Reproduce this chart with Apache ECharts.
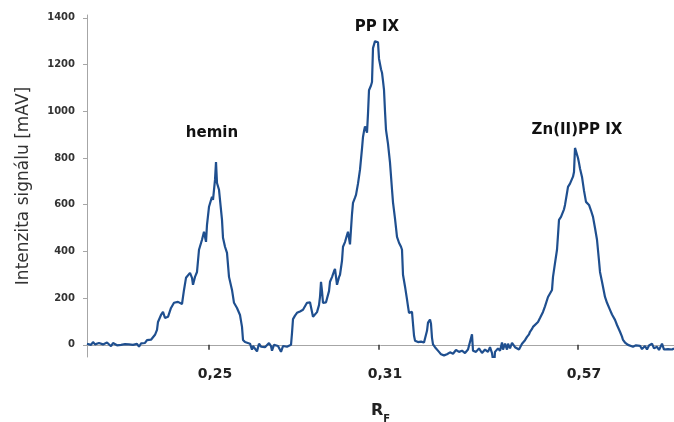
<!DOCTYPE html>
<html>
<head>
<meta charset="utf-8">
<script src="https://cdn.jsdelivr.net/npm/echarts@6/dist/echarts.min.js"></script>
<style>
  html, body { margin: 0; padding: 0; background: #fff; }
  #chart { width: 674px; height: 422px; }
</style>
</head>
<body>
<div id="chart"></div>
<script>
// scan position along the plate (arbitrary units) and detector signal [mAV]
const pos = [
  87, 89, 91, 93, 95, 97, 99, 101, 103, 105, 107, 109, 111, 113, 115, 117, 119, 121, 123, 125,
  127, 129, 131, 133, 135, 137, 139, 141, 143, 145, 147, 149, 151,
  152, 155, 157, 158, 161, 163, 165, 168, 171, 174, 178, 182, 184, 186, 190, 192, 193, 195,
  197, 199, 202, 204, 206, 207, 209, 212, 213, 215, 216, 217, 219, 220, 222, 223, 225, 227,
  229, 232, 234, 237, 238, 240, 242, 243, 245, 247, 250, 252, 253,
  255, 257, 259, 261, 263, 265, 267, 269, 271, 272, 274, 276, 278, 280, 281, 283, 285, 287, 289, 291,
  292, 293, 295, 297, 300, 303, 305, 307, 310, 312, 313, 315, 317, 319, 320, 321, 322, 323,
  326, 328, 329, 330, 332, 334, 335, 337, 339, 340, 342, 343, 345, 347, 348, 350, 352, 353,
  355, 356, 358, 360, 362, 363, 364, 365, 367, 368, 369, 371, 372, 373, 375, 377, 378, 379,
  381, 382, 383, 384, 385, 386, 387, 388, 390, 392, 393, 395, 397, 399, 401, 402, 403, 405,
  407, 408, 409, 411, 412, 413, 414, 415, 418, 421, 424, 426, 427, 428, 430, 431, 432, 433,
  435, 437, 439, 441, 444, 447, 450, 453, 456, 459, 462, 465, 468, 470, 472, 473, 476, 479,
  482, 485, 488, 490, 492, 494, 495, 498, 500, 502, 503, 505, 507, 508, 510, 512, 513, 515,
  517, 519, 520, 522,
  523, 525, 527, 529, 530, 532, 533, 535, 538, 540, 543, 545, 548, 550, 552, 553, 555, 557,
  558, 559, 561, 562, 564, 565, 567, 568, 570, 572, 573, 574, 575, 576, 577, 578, 579, 580,
  582, 584, 586, 588, 589, 591, 593, 595, 597, 599, 600, 602, 605, 607, 610, 612, 615, 617,
  620, 622, 623, 625, 628, 630, 633, 636, 638, 640, 642, 645, 647, 649, 652, 654, 657, 659,
  662, 664, 666, 668, 670, 672, 674
];
const signal = [
  5, 10, 0, 12, 2, -5, 8, 14, 2, -3, 10, 4, -6, 8, 3, -2, 5, 0, -4, 3,
  -2, 2, -5, 0, -3, 4, -8, 6, 10, 8, 20, 15, 22,
  30, 43, 64, 98, 128, 141, 115, 120, 158, 180, 184, 175, 235, 287, 308, 287, 257, 291,
  312, 407, 450, 484, 441, 514, 591, 634, 621, 706, 783, 693, 664, 621, 535, 458, 420, 394,
  291, 235, 180, 158, 163, 128, 77, 21, 12, 9, 5, -21, -5,
  -5, -28, 5, -8, -3, -10, -5, 8, -5, -25, 0, -8, -5, -3, -30, -5, 0, -8, -3, 0,
  50, 110, 125, 137, 143, 150, 165, 180, 182, 180, 120, 125, 140, 170, 205, 270, 230, 180,
  182, 185, 230, 270, 290, 315, 325, 257, 290, 300, 360, 420, 440, 470, 484, 430, 560, 608,
  630, 642, 690, 750, 840, 890, 915, 935, 908, 990, 1090, 1110, 1125, 1270, 1300, 1306, 1295, 1225,
  1180, 1165, 1130, 1092, 1000, 920, 890, 860, 780, 665, 610, 540, 462, 437, 420, 407, 300, 250,
  195, 165, 137, 145, 141, 90, 40, 18, 12, 14, 10, 18, 60, 95, 108, 90, 30, 2,
  -10, -18, -30, -40, -45, -40, -32, -38, -22, -30, -25, -35, -20, -28, 45, -25, -30, -15,
  -35, -20, -30, -10, -35, -95, -30, -15, -25, 10, -20, 5, -20, 5, -15, 8, 0, -10,
  -5, -20, -15, 5,
  8, 20, 34, 45, 56, 68, 77, 85, 98, 115, 141, 165, 205, 220, 235, 291, 350, 407,
  470, 535, 548, 556, 580, 599, 650, 676, 690, 698, 720, 740, 843, 835, 838, 800, 779, 755,
  719, 660, 612, 605, 599, 575, 548, 500, 450, 360, 312, 270, 205, 180, 150, 130, 107, 85,
  56, 35, 21, 10, 0, -5, -8, -2, -10, -4, -18, -5, -20, -3, 5, -15, -8, -22,
  5, -20, -12, -18, -10, -20, -15
];

// R_F tick labels at the spot centres
const rfTicks = [209, 379, 578];
const rfLabels = ['0,25', '0,31', '0,57'];
const yTicks = [0, 200, 400, 600, 800, 1000, 1200, 1400];
const peakNames = ['hemin', 'PP IX', 'Zn(II)PP IX'];

const chart = echarts.init(document.getElementById('chart'));
const axisColor = '#a6a6a6';

chart.setOption({
  animation: false,
  grid: { left: 87, right: 0, top: 15, bottom: 65, outerBoundsMode: 'none' },
  xAxis: {
    type: 'value', min: 87, max: 674,
    name: '{r|R}{f|F}', nameLocation: 'middle', nameGap: 46,
    nameTextStyle: {
      rich: {
        r: { fontFamily: 'DejaVu Sans', fontWeight: 'bold', fontSize: 16, color: '#222' },
        f: { fontFamily: 'DejaVu Sans', fontWeight: 'bold', fontSize: 10, color: '#222', verticalAlign: 'bottom', padding: [0, 0, -5, 0] }
      }
    },
    axisLine: { onZero: true, lineStyle: { color: axisColor, width: 1 } },
    axisTick: { customValues: rfTicks, length: 5, lineStyle: { color: '#333', width: 1.5 } },
    axisLabel: {
      customValues: rfTicks,
      formatter: v => rfLabels[rfTicks.indexOf(v)] || '',
      margin: 10, padding: [0, 0, 0, 12],
      fontFamily: 'DejaVu Sans', fontWeight: 'bold', fontSize: 14, color: '#222'
    },
    splitLine: { show: false }
  },
  yAxis: {
    type: 'value', min: -52, max: 1412,
    name: 'Intenzita signálu [mAV]', nameLocation: 'middle', nameGap: 55,
    nameTextStyle: { fontFamily: 'DejaVu Sans', fontSize: 17, color: '#333' },
    axisLine: { show: true, lineStyle: { color: axisColor, width: 1 } },
    axisTick: { show: true, customValues: yTicks, length: 4, lineStyle: { color: axisColor } },
    axisLabel: {
      customValues: yTicks, margin: 12, formatter: v => String(v),
      fontFamily: 'DejaVu Sans', fontWeight: 'bold', fontSize: 10, color: '#333'
    },
    splitLine: { show: false }
  },
  series: [{
    type: 'line',
    data: pos.map((p, i) => [p, signal[i]]),
    showSymbol: false,
    lineStyle: { color: '#1f4f8f', width: 2.2 },
    markPoint: {
      symbol: 'circle', symbolSize: 1,
      itemStyle: { color: 'rgba(0,0,0,0)' },
      label: {
        show: true, position: 'inside', formatter: '{b}',
        fontFamily: 'DejaVu Sans', fontWeight: 'bold', fontSize: 15, color: '#111'
      },
      data: [
        { name: peakNames[0], coord: [212, 908] },
        { name: peakNames[1], coord: [377, 1361] },
        { name: peakNames[2], coord: [577, 920] }
      ]
    }
  }]
});
</script>
</body>
</html>
